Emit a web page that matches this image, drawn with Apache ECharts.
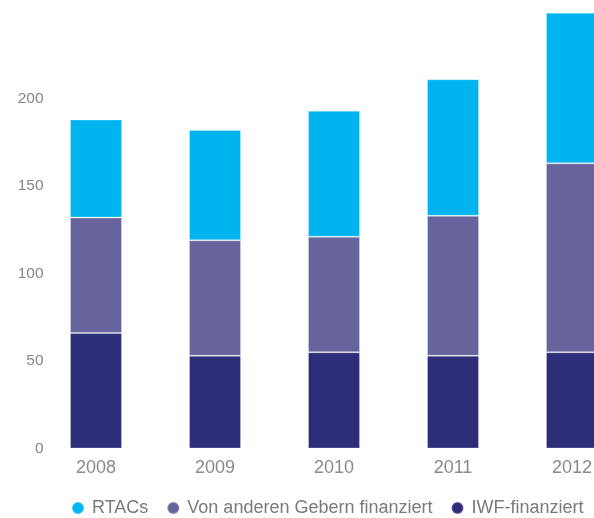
<!DOCTYPE html>
<html>
<head>
<meta charset="utf-8">
<script src="https://cdn.jsdelivr.net/npm/echarts@6/dist/echarts.min.js"></script>
<style>
  html, body { margin: 0; padding: 0; background: #ffffff; }
  #chart { width: 594px; height: 518px; }
</style>
</head>
<body>
<div id="chart"></div>
<script>
// Jahre und Finanzierungsquellen (Anzahl)
const years = ['2008', '2009', '2010', '2011', '2012'];
const iwfFinanziert = [66, 53, 55, 53, 55];
const andereGeber = [66, 66, 66, 80, 108];
const rtacs = [56, 63, 72, 78, 86];
const yTicks = [0, 50, 100, 150, 200];

const colors = {
  rtacs: '#00b5ef',
  andere: '#67649d',
  iwf: '#2e2d79'
};

const chart = echarts.init(document.getElementById('chart'), null, { renderer: 'canvas' });

const barBase = {
  type: 'bar',
  stack: 'total',
  barWidth: 52,
  emphasis: { disabled: true }
};

const edge = 'rgba(255,255,255,0.25)';

chart.setOption({
  animation: false,
  textStyle: { fontFamily: 'Liberation Sans, Helvetica, Arial, sans-serif' },
  // the last column runs past the right edge of the canvas
  grid: { left: 36.5, top: 11, width: 595, height: 437.5, outerBoundsMode: 'none', containLabel: false },
  legend: {
    left: 66,
    top: 494,
    icon: 'circle',
    itemWidth: 12,
    itemHeight: 12,
    itemGap: 18,
    textStyle: { color: '#7a7a7a', fontSize: 18, padding: [0, 0, 0, 3] },
    data: ['RTACs', 'Von anderen Gebern finanziert', 'IWF-finanziert']
  },
  xAxis: {
    type: 'category',
    data: years,
    axisLine: { show: false },
    axisTick: { show: false },
    axisLabel: { color: '#8a8a8a', fontSize: 18, margin: 11 }
  },
  yAxis: {
    type: 'value',
    min: 0,
    max: 250,
    interval: 50,
    splitLine: { show: false },
    axisLine: { show: false },
    axisTick: { show: false },
    axisLabel: {
      color: '#858585',
      fontSize: 15.5,
      margin: -7,
      formatter: function (v) { return yTicks.indexOf(v) >= 0 ? String(v) : ''; }
    }
  },
  series: [
    Object.assign({}, barBase, {
      name: 'IWF-finanziert',
      data: iwfFinanziert,
      itemStyle: { color: colors.iwf, borderColor: edge, borderWidth: 1 }
    }),
    Object.assign({}, barBase, {
      name: 'Von anderen Gebern finanziert',
      data: andereGeber,
      itemStyle: { color: colors.andere, borderColor: edge, borderWidth: 1 }
    }),
    Object.assign({}, barBase, {
      name: 'RTACs',
      data: rtacs,
      itemStyle: { color: colors.rtacs, borderColor: edge, borderWidth: 1 }
    })
  ]
});
</script>
</body>
</html>
